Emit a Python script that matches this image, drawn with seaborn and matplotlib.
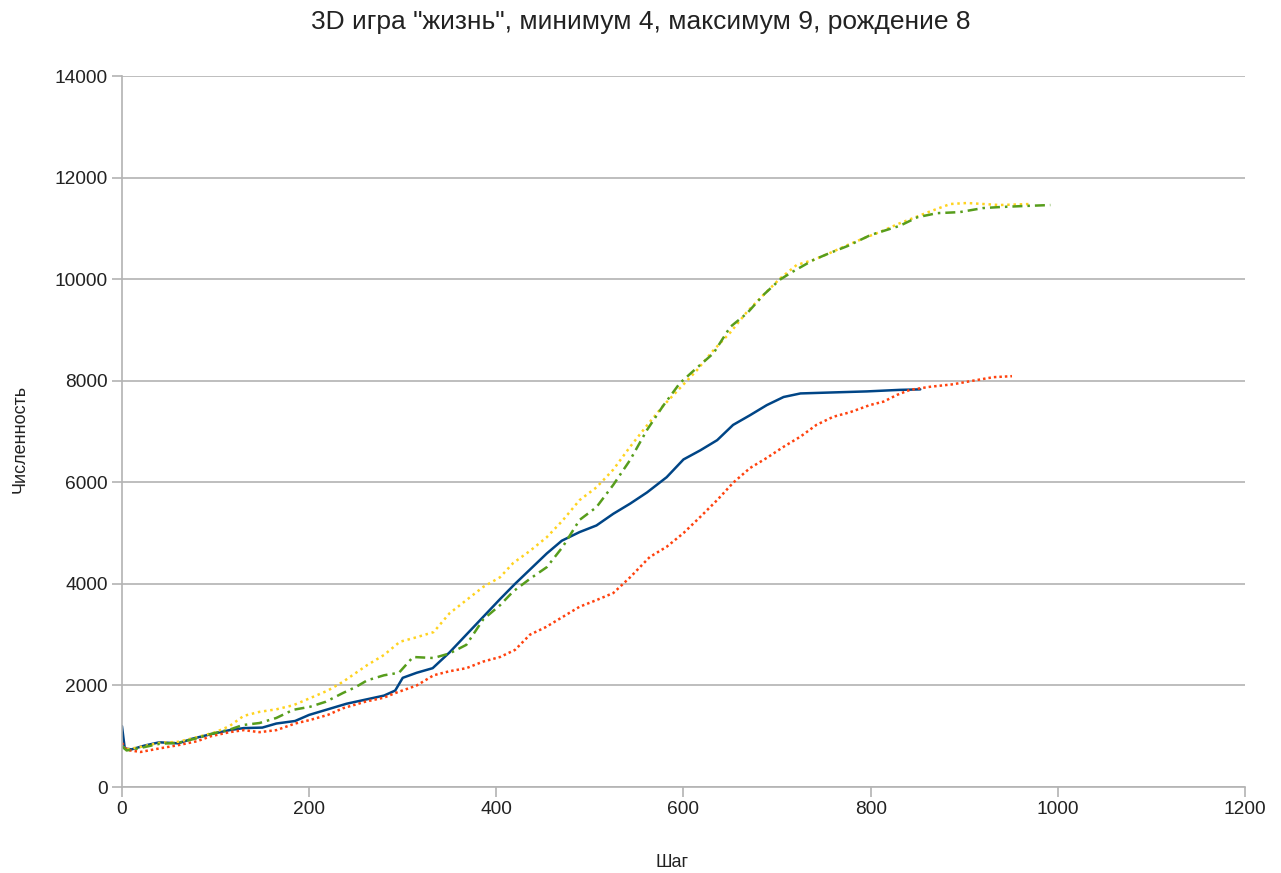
import matplotlib
matplotlib.use("Agg")
import matplotlib.pyplot as plt
import seaborn as sns
import pandas as pd

# Population counts per simulation step for four runs
steps_blue = [0, 3, 10, 25, 40, 60, 75, 95, 115, 130, 150, 165, 185, 200, 220, 240, 260, 280,
              292, 300, 315, 332, 350, 368, 386, 404, 420, 437, 454, 470, 489, 507, 525, 543,
              561, 582, 600, 618, 636, 653, 671, 689, 707, 725, 760, 796, 831, 853]
pop_blue = [1200, 760, 740, 820, 880, 860, 950, 1040, 1120, 1160, 1170, 1250, 1300, 1420, 1530,
            1640, 1720, 1800, 1900, 2150, 2250, 2340, 2650, 3000, 3350, 3700, 4000, 4300, 4600,
            4850, 5020, 5150, 5380, 5580, 5800, 6100, 6450, 6630, 6830, 7130, 7320, 7520, 7680,
            7750, 7770, 7790, 7820, 7830]

steps_orange = [0, 5, 20, 40, 59, 80, 95, 115, 130, 147, 165, 185, 201, 220, 236, 260, 280, 292,
                315, 333, 350, 368, 386, 404, 420, 436, 453, 471, 489, 507, 525, 543, 564, 582,
                600, 618, 636, 653, 671, 689, 707, 725, 742, 760, 778, 799, 814, 828, 842, 863,
                888, 906, 931, 951]
pop_orange = [870, 730, 690, 760, 820, 900, 1000, 1080, 1120, 1080, 1120, 1250, 1320, 1420, 1550,
              1680, 1760, 1850, 2000, 2200, 2280, 2340, 2470, 2560, 2700, 3000, 3150, 3350, 3550,
              3680, 3820, 4130, 4530, 4730, 5000, 5320, 5650, 5990, 6280, 6480, 6700, 6900, 7130,
              7290, 7380, 7520, 7590, 7720, 7820, 7880, 7930, 7990, 8070, 8090]

steps_yellow = [0, 5, 20, 40, 60, 80, 100, 115, 130, 147, 165, 183, 201, 220, 236, 262, 280, 297,
                315, 333, 350, 368, 386, 404, 418, 436, 454, 471, 489, 507, 525, 543, 561, 578,
                596, 614, 632, 650, 668, 686, 703, 721, 739, 757, 775, 792, 810, 831, 845, 863,
                885, 903, 938, 970]
pop_yellow = [800, 740, 790, 870, 890, 980, 1080, 1200, 1400, 1480, 1530, 1610, 1750, 1900, 2070,
              2400, 2600, 2860, 2950, 3050, 3420, 3680, 3940, 4130, 4410, 4650, 4920, 5250, 5650,
              5900, 6250, 6700, 7120, 7500, 7850, 8200, 8600, 8950, 9360, 9700, 10010, 10280,
              10380, 10520, 10670, 10800, 10930, 11100, 11200, 11330, 11480, 11500, 11460, 11480]

steps_green = [0, 5, 20, 40, 60, 80, 94, 115, 129, 147, 165, 183, 201, 218, 236, 250, 262, 280,
               296, 311, 333, 350, 368, 386, 404, 418, 436, 454, 471, 489, 507, 525, 543, 561, 578,
               596, 614, 632, 650, 668, 686, 703, 716, 739, 757, 775, 800, 831, 850, 871, 895, 920,
               938, 963, 992]
pop_green = [800, 720, 770, 850, 870, 960, 1040, 1130, 1220, 1260, 1360, 1520, 1580, 1680, 1850,
             1970, 2100, 2200, 2250, 2560, 2540, 2630, 2800, 3300, 3580, 3850, 4100, 4330, 4730,
             5260, 5510, 5950, 6440, 7030, 7500, 7950, 8250, 8540, 9060, 9330, 9700, 9990, 10140,
             10380, 10520, 10650, 10870, 11050, 11220, 11300, 11320, 11400, 11420, 11440, 11460]

x_ticks = [0, 200, 400, 600, 800, 1000, 1200]
y_ticks = [0, 2000, 4000, 6000, 8000, 10000, 12000, 14000]

sns.set_theme(style="white")
plt.rcParams["font.family"] = ["Liberation Sans", "DejaVu Sans"]

fig = plt.figure(figsize=(12.81, 8.73), dpi=100)
ax = fig.add_axes([0.0952, 0.0985, 0.9719 - 0.0952, 0.9129 - 0.0985])

series = [
    (steps_blue, pop_blue, "#004586", "-"),
    (steps_orange, pop_orange, "#ff420e", (0, (1, 1.2))),
    (steps_yellow, pop_yellow, "#ffd320", (0, (1, 1.5))),
    (steps_green, pop_green, "#579d1c", (0, (4, 2, 1, 2))),
]
for xs, ys, color, ls in series:
    df = pd.DataFrame({"step": xs, "count": ys})
    sns.lineplot(data=df, x="step", y="count", ax=ax, color=color, linewidth=1.8,
                 linestyle=ls, estimator=None, sort=False)

ax.set_xlim(0, 1200)
ax.set_ylim(0, 14000)
ax.set_xticks(x_ticks)
ax.set_yticks(y_ticks)
ax.set_xticklabels([str(v) for v in x_ticks])
ax.set_yticklabels([str(v) for v in y_ticks])

ax.grid(axis="y", color="#b3b3b3", linewidth=1.2)
ax.grid(axis="x", visible=False)
ax.set_axisbelow(True)
for side in ["top", "right"]:
    ax.spines[side].set_visible(False)
for side in ["left", "bottom"]:
    ax.spines[side].set_color("#b3b3b3")
    ax.spines[side].set_linewidth(1.2)
ax.tick_params(axis="both", which="major", length=7, width=1.2, color="#b3b3b3",
               labelsize=13.8, labelcolor="#222222", direction="out", pad=3)
ax.tick_params(axis="x", bottom=True)
ax.tick_params(axis="y", left=True)

ax.set_xlabel("Шаг", fontsize=13, color="#222222")
ax.xaxis.set_label_coords(0.49, -0.094)
ax.set_ylabel("Численность", fontsize=13, color="#222222")
ax.yaxis.set_label_coords(-0.083, 0.49)
fig.text(0.5, 0.975, '3D игра "жизнь", минимум 4, максимум 9, рождение 8', fontsize=19,
         color="#222222", ha="center", va="center")

fig.savefig("out.png", dpi=100)
